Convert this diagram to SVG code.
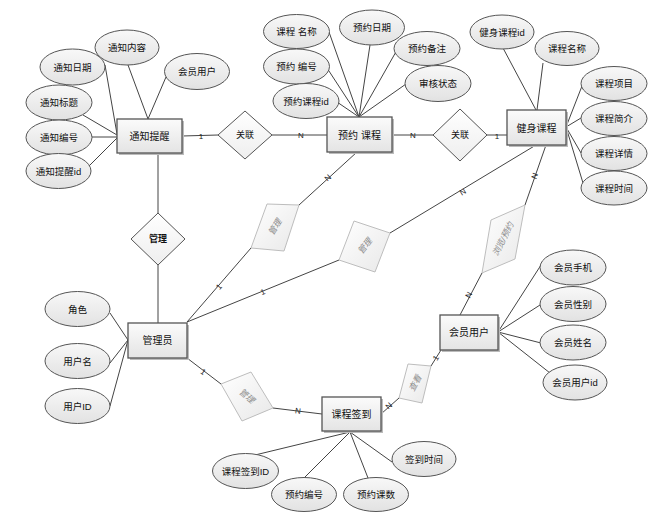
<svg xmlns="http://www.w3.org/2000/svg" width="661" height="527" viewBox="0 0 661 527">
<defs>
<linearGradient id="gEnt" x1="0" y1="0" x2="0" y2="1"><stop offset="0" stop-color="#fbfbfb"/><stop offset="1" stop-color="#e4e4e4"/></linearGradient>
<linearGradient id="gAttr" x1="0" y1="0" x2="0" y2="1"><stop offset="0" stop-color="#f8f8f8"/><stop offset="1" stop-color="#e2e2e2"/></linearGradient>
<linearGradient id="gRel" x1="0" y1="0" x2="0" y2="1"><stop offset="0" stop-color="#ffffff"/><stop offset="1" stop-color="#eeeeee"/></linearGradient>
<linearGradient id="gRel2" x1="0" y1="0" x2="1" y2="1"><stop offset="0" stop-color="#ffffff"/><stop offset="1" stop-color="#e8e8e8"/></linearGradient>
</defs>
<style>
text{font-family:"Liberation Sans","Noto Sans CJK SC",sans-serif;fill:#111;text-anchor:middle;dominant-baseline:central}
.ent rect.b{fill:url(#gEnt);stroke:#555;stroke-width:1.3}
.ent rect.s{fill:#bbb;stroke:none}
.ent text{font-size:10px}
.attr ellipse{fill:url(#gAttr);stroke:#555;stroke-width:1}
.attr text{font-size:9.5px}
.rel polygon{fill:url(#gRel);stroke:#555;stroke-width:1}
.rel text{font-size:9px}
.rel2 polygon{fill:url(#gRel2);stroke:#bdbdbd;stroke-width:1}
.rel2 text{font-size:8.5px;fill:#8a8a8a;font-style:italic}
#connectors line{stroke:#444;stroke-width:1}
#connectors text{font-size:8px;fill:#222}
</style>
<rect x="0" y="0" width="661" height="527" fill="#ffffff"/>

<g id="connectors">
<!-- 通知提醒 attributes -->
<line x1="105" y1="65" x2="117" y2="134"/>
<line x1="128" y1="65" x2="148" y2="119"/>
<line x1="166" y1="77" x2="148" y2="119"/>
<line x1="83" y1="115" x2="117" y2="135"/>
<line x1="92" y1="137" x2="117" y2="137"/>
<line x1="88" y1="167" x2="117" y2="138"/>
<!-- 预约课程 attributes -->
<line x1="329" y1="32" x2="359" y2="117"/>
<line x1="327" y1="68" x2="359" y2="117"/>
<line x1="337" y1="102" x2="359" y2="117"/>
<line x1="370" y1="45" x2="359" y2="117"/>
<line x1="397" y1="50" x2="359" y2="117"/>
<line x1="406" y1="84" x2="359" y2="117"/>
<!-- 健身课程 attributes -->
<line x1="503" y1="48" x2="536" y2="110"/>
<line x1="543" y1="63" x2="537" y2="110"/>
<line x1="582" y1="86" x2="566" y2="127"/>
<line x1="581" y1="118" x2="566" y2="127"/>
<line x1="581" y1="153" x2="566" y2="127"/>
<line x1="583" y1="183" x2="566" y2="127"/>
<!-- 管理员 attributes -->
<line x1="110" y1="313" x2="128" y2="340"/>
<line x1="110" y1="363" x2="128" y2="340"/>
<line x1="110" y1="406" x2="128" y2="340"/>
<!-- 会员用户 attributes -->
<line x1="541" y1="265" x2="498" y2="332"/>
<line x1="540" y1="305" x2="498" y2="332"/>
<line x1="541" y1="343" x2="498" y2="332"/>
<line x1="550" y1="373" x2="498" y2="332"/>
<!-- 课程签到 attributes -->
<line x1="255" y1="455" x2="350" y2="432"/>
<line x1="305" y1="477" x2="350" y2="432"/>
<line x1="368" y1="478" x2="350" y2="432"/>
<line x1="392" y1="462" x2="350" y2="432"/>

<!-- relationships -->
<line x1="182" y1="136" x2="218" y2="135"/>
<line x1="272" y1="135" x2="327" y2="135"/>
<line x1="392" y1="135" x2="433" y2="135"/>
<line x1="486" y1="135" x2="507" y2="135"/>
<line x1="158" y1="153" x2="158" y2="213"/>
<line x1="158" y1="265" x2="158" y2="323"/>
<line x1="187" y1="322" x2="251" y2="248"/>
<line x1="299" y1="205" x2="357" y2="152"/>
<line x1="187" y1="322" x2="339" y2="260"/>
<line x1="390" y1="233" x2="536" y2="145"/>
<line x1="525" y1="205" x2="546" y2="145"/>
<line x1="482" y1="273" x2="460" y2="315"/>
<line x1="441" y1="350" x2="431" y2="366"/>
<line x1="399" y1="398" x2="381" y2="414"/>
<line x1="187" y1="358" x2="221" y2="384"/>
<line x1="273" y1="408" x2="322" y2="414"/>

<text x="201" y="136">1</text>
<text x="301" y="135">N</text>
<text x="413" y="135">N</text>
<text x="497" y="136">1</text>
<text x="219" y="287" transform="rotate(-49 219 287)">1</text>
<text x="328" y="178" transform="rotate(-42 328 178)">N</text>
<text x="263" y="292" transform="rotate(-22 263 292)">1</text>
<text x="463" y="192" transform="rotate(-31 463 192)">N</text>
<text x="535" y="176" transform="rotate(-70 535 176)">N</text>
<text x="469" y="295" transform="rotate(-62 469 295)">N</text>
<text x="436" y="358" transform="rotate(-58 436 358)">1</text>
<text x="389" y="406" transform="rotate(-42 389 406)">N</text>
<text x="203" y="372" transform="rotate(37 203 372)">1</text>
<text x="298" y="411" transform="rotate(7 298 411)">N</text>
</g>

<!-- relationship diamonds -->
<g id="rel-guanlian1" class="rel"><polygon points="245,111 272,135 245,159 218,135"/><text x="245" y="135">关联</text></g>
<g id="rel-guanlian2" class="rel"><polygon points="460,109 487,135 460,161 433,135"/><text x="460" y="135">关联</text></g>
<g id="rel-guanli0" class="rel"><polygon points="158,213 185,239 158,265 131,239"/><text x="158" y="239" style="font-weight:bold">管理</text></g>
<g id="rel-guanli1" class="rel2"><polygon points="267,204 299,205 284,251 251,248"/><text x="275" y="227" transform="rotate(-58 275 227)">管理</text></g>
<g id="rel-guanli2" class="rel2"><polygon points="354,221 390,233 375,272 339,260"/><text x="365" y="246" transform="rotate(-52 365 246)">管理</text></g>
<g id="rel-liulan" class="rel2"><polygon points="525,205 491,220 482,273 515,259"/><text x="503" y="239" transform="rotate(-63 503 239)">浏览/预约</text></g>
<g id="rel-chakan" class="rel2"><polygon points="408,364 431,366 422,403 399,398"/><text x="415" y="383" transform="rotate(-62 415 383)">查看</text></g>
<g id="rel-guanli3" class="rel2"><polygon points="221,384 251,372 273,408 242,421"/><text x="247" y="396" transform="rotate(40 247 396)">管理</text></g>

<!-- entities -->
<g id="ent-tongzhi" class="ent"><rect class="s" x="119" y="121" width="65" height="34"/><rect class="b" x="117" y="119" width="65" height="34"/><text x="149.5" y="136">通知提醒</text></g>
<g id="ent-yuyue" class="ent"><rect class="s" x="329" y="119" width="65" height="35"/><rect class="b" x="327" y="117" width="65" height="35"/><text x="359.5" y="135">预约 课程</text></g>
<g id="ent-jianshen" class="ent"><rect class="s" x="509" y="112" width="59" height="35"/><rect class="b" x="507" y="110" width="59" height="35"/><text x="536.5" y="128">健身课程</text></g>
<g id="ent-admin" class="ent"><rect class="s" x="130" y="325" width="59" height="35"/><rect class="b" x="128" y="323" width="59" height="35"/><text x="157.5" y="340">管理员</text></g>
<g id="ent-member" class="ent"><rect class="s" x="442" y="317" width="58" height="35"/><rect class="b" x="440" y="315" width="58" height="35"/><text x="469" y="332">会员用户</text></g>
<g id="ent-qiandao" class="ent"><rect class="s" x="324" y="399" width="59" height="34"/><rect class="b" x="322" y="397" width="59" height="34"/><text x="351.5" y="414">课程签到</text></g>

<!-- attributes: 通知提醒 -->
<g id="a-tz-content" class="attr"><ellipse cx="127" cy="47.5" rx="32" ry="17.5"/><text x="127" y="47.5">通知内容</text></g>
<g id="a-tz-date" class="attr"><ellipse cx="72.5" cy="67" rx="32.5" ry="18"/><text x="72.5" y="67">通知日期</text></g>
<g id="a-tz-member" class="attr"><ellipse cx="197" cy="71.5" rx="32.5" ry="18"/><text x="197" y="71.5">会员用户</text></g>
<g id="a-tz-title" class="attr"><ellipse cx="59" cy="102.5" rx="33" ry="17.5"/><text x="59" y="102.5">通知标题</text></g>
<g id="a-tz-no" class="attr"><ellipse cx="59" cy="137.5" rx="33" ry="17.5"/><text x="59" y="137.5">通知编号</text></g>
<g id="a-tz-id" class="attr"><ellipse cx="58.5" cy="171" rx="32.5" ry="17.5"/><text x="58.5" y="171">通知提醒id</text></g>

<!-- attributes: 预约课程 -->
<g id="a-yy-name" class="attr"><ellipse cx="296.5" cy="31.5" rx="33" ry="17"/><text x="296.5" y="31.5">课程 名称</text></g>
<g id="a-yy-date" class="attr"><ellipse cx="372" cy="27.5" rx="32.5" ry="17.5"/><text x="372" y="27.5">预约日期</text></g>
<g id="a-yy-note" class="attr"><ellipse cx="427" cy="48.5" rx="33" ry="17"/><text x="427" y="48.5">预约备注</text></g>
<g id="a-yy-no" class="attr"><ellipse cx="296.5" cy="66.5" rx="33" ry="17.5"/><text x="296.5" y="66.5">预约 编号</text></g>
<g id="a-yy-status" class="attr"><ellipse cx="438" cy="83.5" rx="33" ry="18"/><text x="438" y="83.5">审核状态</text></g>
<g id="a-yy-id" class="attr"><ellipse cx="306" cy="101" rx="33" ry="17.5"/><text x="306" y="101">预约课程id</text></g>

<!-- attributes: 健身课程 -->
<g id="a-js-id" class="attr"><ellipse cx="502" cy="32" rx="32" ry="17"/><text x="502" y="32">健身课程id</text></g>
<g id="a-js-name" class="attr"><ellipse cx="567" cy="48.5" rx="32" ry="17"/><text x="567" y="48.5">课程名称</text></g>
<g id="a-js-item" class="attr"><ellipse cx="614" cy="83.5" rx="33" ry="17"/><text x="614" y="83.5">课程项目</text></g>
<g id="a-js-intro" class="attr"><ellipse cx="614" cy="118.5" rx="33" ry="17"/><text x="614" y="118.5">课程简介</text></g>
<g id="a-js-detail" class="attr"><ellipse cx="614" cy="153.5" rx="33" ry="17"/><text x="614" y="153.5">课程详情</text></g>
<g id="a-js-time" class="attr"><ellipse cx="614" cy="188" rx="33" ry="17"/><text x="614" y="188">课程时间</text></g>

<!-- attributes: 管理员 -->
<g id="a-ad-role" class="attr"><ellipse cx="77.5" cy="309" rx="32.5" ry="17.5"/><text x="77.5" y="309">角色</text></g>
<g id="a-ad-name" class="attr"><ellipse cx="77.5" cy="361" rx="32.5" ry="17.5"/><text x="77.5" y="361">用户名</text></g>
<g id="a-ad-id" class="attr"><ellipse cx="77.5" cy="406" rx="32.5" ry="17.5"/><text x="77.5" y="406">用户ID</text></g>

<!-- attributes: 会员用户 -->
<g id="a-mb-phone" class="attr"><ellipse cx="573" cy="267.5" rx="33" ry="17.5"/><text x="573" y="267.5">会员手机</text></g>
<g id="a-mb-sex" class="attr"><ellipse cx="573" cy="304" rx="33" ry="17.5"/><text x="573" y="304">会员性别</text></g>
<g id="a-mb-name" class="attr"><ellipse cx="573" cy="342.5" rx="33" ry="17.5"/><text x="573" y="342.5">会员姓名</text></g>
<g id="a-mb-id" class="attr"><ellipse cx="575" cy="382.5" rx="32" ry="17.5"/><text x="575" y="382.5">会员用户id</text></g>

<!-- attributes: 课程签到 -->
<g id="a-qd-id" class="attr"><ellipse cx="245.5" cy="471" rx="33" ry="17.5"/><text x="245.5" y="471">课程签到ID</text></g>
<g id="a-qd-no" class="attr"><ellipse cx="304" cy="494.5" rx="32.5" ry="17"/><text x="304" y="494.5">预约编号</text></g>
<g id="a-qd-count" class="attr"><ellipse cx="376" cy="494.5" rx="32.5" ry="17"/><text x="376" y="494.5">预约课数</text></g>
<g id="a-qd-time" class="attr"><ellipse cx="424" cy="459" rx="32" ry="17.5"/><text x="424" y="459">签到时间</text></g>
</svg>
